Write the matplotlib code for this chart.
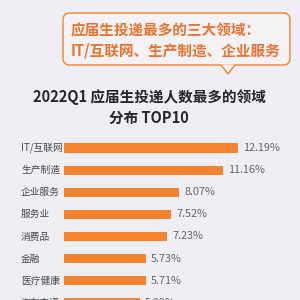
import matplotlib

matplotlib.use("Agg")
import matplotlib.pyplot as plt
from matplotlib.patches import FancyBboxPatch, Polygon

plt.rcParams["font.family"] = ["Noto Sans CJK SC", "DejaVu Sans"]

categories = ["IT/互联网", "生产制造", "企业服务", "服务业", "消费品",
              "金融", "医疗健康", "汽车交通"]
shares = [12.19, 11.16, 8.07, 7.52, 7.23, 5.73, 5.71, 5.29]
value_labels = ["12.19%", "11.16%", "8.07%", "7.52%", "7.23%",
                "5.73%", "5.71%", "5.29%"]

callout_lines = ["应届生投递最多的三大领域：", "IT/互联网、生产制造、企业服务"]
title_lines = ["2022Q1 应届生投递人数最多的领域", "分布 TOP10"]

BG = "#EEEEF4"
ORANGE = "#F5822C"
TEXT_ORANGE = "#E8742F"

fig = plt.figure(figsize=(3, 3), dpi=100)
fig.patch.set_facecolor(BG)

# overlay in pixel coordinates (origin top-left) for the callout and title
deco = fig.add_axes([0, 0, 1, 1])
deco.set_xlim(0, 300)
deco.set_ylim(300, 0)
deco.axis("off")

box = FancyBboxPatch((63, 13), 227, 52, boxstyle="round,pad=0,rounding_size=7",
                     fc="#F4F2F4", ec=ORANGE, lw=1.0, zorder=2)
deco.add_patch(box)
deco.add_patch(Polygon([(221, 64.5), (235, 64.5), (228, 74)], closed=True,
                       fc="#F4F2F4", ec="none", zorder=3))
deco.plot([221, 228, 235], [65, 74, 65], color=ORANGE, lw=1.0, zorder=4,
          solid_joinstyle="round")
deco.text(71, 30, callout_lines[0], color=TEXT_ORANGE, fontsize=10.5,
          fontweight="bold", va="center", ha="left", zorder=5)
deco.text(71, 50, callout_lines[1], color=TEXT_ORANGE, fontsize=10.5,
          fontweight="bold", va="center", ha="left", zorder=5)

deco.text(149, 97, title_lines[0], color="#262626", fontsize=10.5,
          fontweight="bold", va="center", ha="center")
deco.text(149, 118, title_lines[1], color="#262626", fontsize=10.5,
          fontweight="bold", va="center", ha="center")

# bar chart: axes spans x from 64px to right edge, full height
ax = fig.add_axes([64 / 300, 0, 236 / 300, 1])
ax.set_facecolor("none")
pitch = 22.1
top = 148
ax.set_ylim((300 - top) / pitch, -top / pitch)
ax.set_xlim(0, 12.19 * 236 / 174)
ypos = list(range(len(categories)))
ax.barh(ypos, shares, height=0.41, color=ORANGE, zorder=2)
for y, v, lab in zip(ypos, shares, value_labels):
    ax.text(v + 0.35, y, lab, color="#666666", fontsize=7.8, va="center", ha="left")

# category names are left-aligned in a column at x = 21px
for y, cat in zip(ypos, categories):
    deco.text(21, top + pitch * y, cat, color="#4A4A4A", fontsize=7,
              va="center", ha="left")
ax.axis("off")

fig.savefig("out.png", dpi=100, facecolor=BG)
